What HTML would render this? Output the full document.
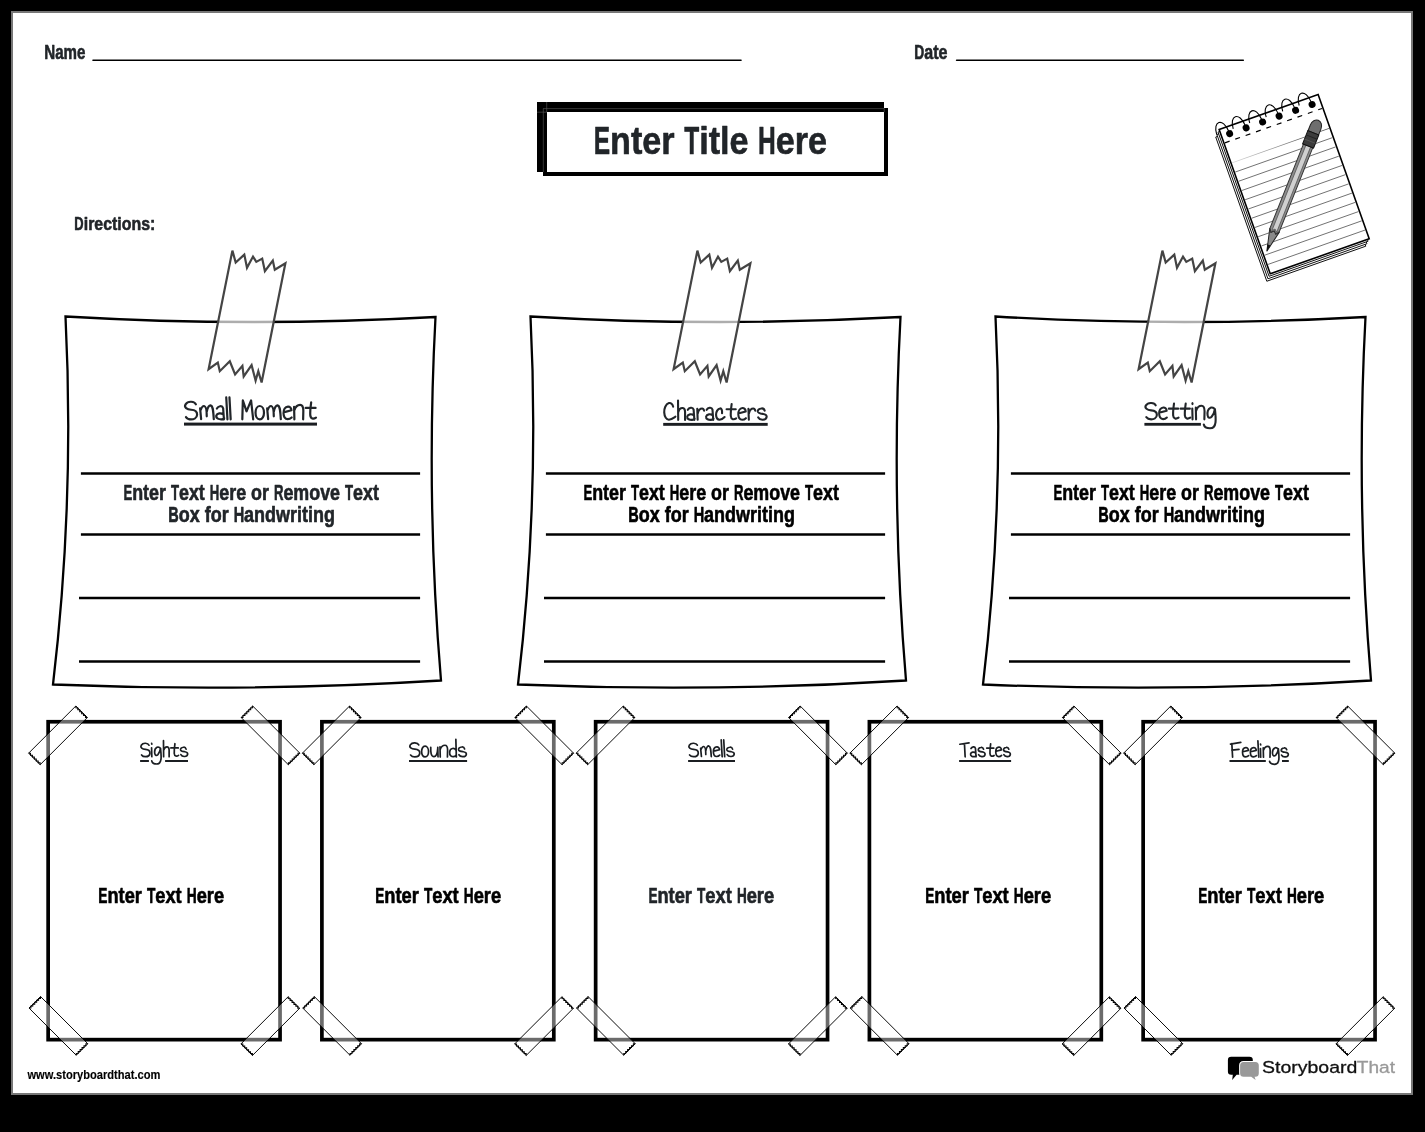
<!DOCTYPE html>
<html><head><meta charset="utf-8"><title>Worksheet</title>
<style>
html,body{margin:0;padding:0;background:#000;width:1425px;height:1132px;overflow:hidden;font-family:"Liberation Sans",sans-serif;}
#paper{position:absolute;left:11px;top:11px;width:1402px;height:1084px;box-sizing:border-box;border:2px solid #777;background:#fff;}
svg{position:absolute;left:0;top:0;will-change:transform;}
</style></head><body>
<div id="paper"></div>
<svg width="1425" height="1132" viewBox="0 0 1425 1132">
<rect x="537" y="102" width="347" height="70" fill="#000"/>
<rect x="545" y="110" width="341" height="64" fill="#fff" stroke="#000" stroke-width="4"/>
<g stroke="#5a5a5a" stroke-width="0.6"><line x1="543" y1="108.6" x2="884" y2="108.6"/><line x1="543.3" y1="108.6" x2="543.3" y2="172"/><line x1="546.7" y1="102" x2="546.7" y2="112"/><line x1="537" y1="112.2" x2="547" y2="112.2"/><line x1="884.2" y1="108" x2="884.2" y2="112.2"/></g>
<line x1="93" y1="60.3" x2="741" y2="60.3" stroke="#000" stroke-width="1.6" stroke-linecap="round"/>
<line x1="956.6" y1="60.3" x2="1243.3" y2="60.3" stroke="#000" stroke-width="1.6" stroke-linecap="round"/>
<g transform="translate(0,0)">
<path d="M 65.5 316.5 Q 249.5 327.25 435.5 317 Q 425.75 499.25 441 680.5 Q 247 692.5 53 684.5 Q 74.75 500.5 65.5 316.5 Z" fill="#fff" stroke="#000" stroke-width="2.3" stroke-linejoin="miter"/>
<line x1="80.9" y1="473.6" x2="420.1" y2="473.6" stroke="#000" stroke-width="2.5"/>
<line x1="80.9" y1="534.4" x2="420.1" y2="534.4" stroke="#000" stroke-width="2.5"/>
<line x1="79" y1="598" x2="420.1" y2="598" stroke="#000" stroke-width="2.5"/>
<line x1="79" y1="661.6" x2="420.1" y2="661.6" stroke="#000" stroke-width="2.5"/>
<polygon points="232.4,250.6 235.7,262.5 244.3,254.6 247,267.8 253,256.6 256.3,261.9 262.2,258.6 264.9,271.1 272.8,260.5 274.8,269.8 285.4,263.2 261.6,382.5 258.3,371.2 255.6,380.5 251.6,365.2 243.7,376.5 242.4,365.9 235.1,374.5 229.8,361.3 219.8,371.2 217.8,362.6 208.6,369.2" fill="rgba(255,255,255,0.68)" stroke="#444" stroke-width="2.2" stroke-linejoin="miter"/>
</g>
<g transform="translate(465,0)">
<path d="M 65.5 316.5 Q 249.5 327.25 435.5 317 Q 425.75 499.25 441 680.5 Q 247 692.5 53 684.5 Q 74.75 500.5 65.5 316.5 Z" fill="#fff" stroke="#000" stroke-width="2.3" stroke-linejoin="miter"/>
<line x1="80.9" y1="473.6" x2="420.1" y2="473.6" stroke="#000" stroke-width="2.5"/>
<line x1="80.9" y1="534.4" x2="420.1" y2="534.4" stroke="#000" stroke-width="2.5"/>
<line x1="79" y1="598" x2="420.1" y2="598" stroke="#000" stroke-width="2.5"/>
<line x1="79" y1="661.6" x2="420.1" y2="661.6" stroke="#000" stroke-width="2.5"/>
<polygon points="232.4,250.6 235.7,262.5 244.3,254.6 247,267.8 253,256.6 256.3,261.9 262.2,258.6 264.9,271.1 272.8,260.5 274.8,269.8 285.4,263.2 261.6,382.5 258.3,371.2 255.6,380.5 251.6,365.2 243.7,376.5 242.4,365.9 235.1,374.5 229.8,361.3 219.8,371.2 217.8,362.6 208.6,369.2" fill="rgba(255,255,255,0.68)" stroke="#444" stroke-width="2.2" stroke-linejoin="miter"/>
</g>
<g transform="translate(930,0)">
<path d="M 65.5 316.5 Q 249.5 327.25 435.5 317 Q 425.75 499.25 441 680.5 Q 247 692.5 53 684.5 Q 74.75 500.5 65.5 316.5 Z" fill="#fff" stroke="#000" stroke-width="2.3" stroke-linejoin="miter"/>
<line x1="80.9" y1="473.6" x2="420.1" y2="473.6" stroke="#000" stroke-width="2.5"/>
<line x1="80.9" y1="534.4" x2="420.1" y2="534.4" stroke="#000" stroke-width="2.5"/>
<line x1="79" y1="598" x2="420.1" y2="598" stroke="#000" stroke-width="2.5"/>
<line x1="79" y1="661.6" x2="420.1" y2="661.6" stroke="#000" stroke-width="2.5"/>
<polygon points="232.4,250.6 235.7,262.5 244.3,254.6 247,267.8 253,256.6 256.3,261.9 262.2,258.6 264.9,271.1 272.8,260.5 274.8,269.8 285.4,263.2 261.6,382.5 258.3,371.2 255.6,380.5 251.6,365.2 243.7,376.5 242.4,365.9 235.1,374.5 229.8,361.3 219.8,371.2 217.8,362.6 208.6,369.2" fill="rgba(255,255,255,0.68)" stroke="#444" stroke-width="2.2" stroke-linejoin="miter"/>
</g>
<rect x="48.15" y="721.75" width="231.9" height="317.9" fill="#fff" stroke="#000" stroke-width="3.7"/>
<rect x="321.9" y="721.75" width="231.9" height="317.9" fill="#fff" stroke="#000" stroke-width="3.7"/>
<rect x="595.65" y="721.75" width="231.9" height="317.9" fill="#fff" stroke="#000" stroke-width="3.7"/>
<rect x="869.4" y="721.75" width="231.9" height="317.9" fill="#fff" stroke="#000" stroke-width="3.7"/>
<rect x="1143.15" y="721.75" width="231.9" height="317.9" fill="#fff" stroke="#000" stroke-width="3.7"/>
<g transform="translate(58,735.35) rotate(-45)"><rect x="-33.4" y="-8.15" width="66.8" height="16.3" fill="rgba(255,255,255,0.42)" stroke="#000" stroke-width="0.9"/><path d="M33.4 -8.15 L32.1 -6.79 L33.4 -5.43 L32.1 -4.08 L33.4 -2.72 L32.1 -1.36 L33.4 0 L32.1 1.36 L33.4 2.72 L32.1 4.08 L33.4 5.43 L32.1 6.79 L33.4 8.15" fill="none" stroke="#000" stroke-width="1.05"/><path d="M-33.4 8.15 L-32.1 6.79 L-33.4 5.43 L-32.1 4.08 L-33.4 2.72 L-32.1 1.36 L-33.4 0 L-32.1 -1.36 L-33.4 -2.72 L-32.1 -4.08 L-33.4 -5.43 L-32.1 -6.79 L-33.4 -8.15" fill="none" stroke="#000" stroke-width="1.05"/></g>
<g transform="translate(270.5,735.35) rotate(45)"><rect x="-33.4" y="-8.15" width="66.8" height="16.3" fill="rgba(255,255,255,0.42)" stroke="#000" stroke-width="0.9"/><path d="M33.4 -8.15 L32.1 -6.79 L33.4 -5.43 L32.1 -4.08 L33.4 -2.72 L32.1 -1.36 L33.4 0 L32.1 1.36 L33.4 2.72 L32.1 4.08 L33.4 5.43 L32.1 6.79 L33.4 8.15" fill="none" stroke="#000" stroke-width="1.05"/><path d="M-33.4 8.15 L-32.1 6.79 L-33.4 5.43 L-32.1 4.08 L-33.4 2.72 L-32.1 1.36 L-33.4 0 L-32.1 -1.36 L-33.4 -2.72 L-32.1 -4.08 L-33.4 -5.43 L-32.1 -6.79 L-33.4 -8.15" fill="none" stroke="#000" stroke-width="1.05"/></g>
<g transform="translate(58.4,1025.9) rotate(45)"><rect x="-33.4" y="-8.15" width="66.8" height="16.3" fill="rgba(255,255,255,0.42)" stroke="#000" stroke-width="0.9"/><path d="M33.4 -8.15 L32.1 -6.79 L33.4 -5.43 L32.1 -4.08 L33.4 -2.72 L32.1 -1.36 L33.4 0 L32.1 1.36 L33.4 2.72 L32.1 4.08 L33.4 5.43 L32.1 6.79 L33.4 8.15" fill="none" stroke="#000" stroke-width="1.05"/><path d="M-33.4 8.15 L-32.1 6.79 L-33.4 5.43 L-32.1 4.08 L-33.4 2.72 L-32.1 1.36 L-33.4 0 L-32.1 -1.36 L-33.4 -2.72 L-32.1 -4.08 L-33.4 -5.43 L-32.1 -6.79 L-33.4 -8.15" fill="none" stroke="#000" stroke-width="1.05"/></g>
<g transform="translate(270.3,1026.1) rotate(-45)"><rect x="-33.4" y="-8.15" width="66.8" height="16.3" fill="rgba(255,255,255,0.42)" stroke="#000" stroke-width="0.9"/><path d="M33.4 -8.15 L32.1 -6.79 L33.4 -5.43 L32.1 -4.08 L33.4 -2.72 L32.1 -1.36 L33.4 0 L32.1 1.36 L33.4 2.72 L32.1 4.08 L33.4 5.43 L32.1 6.79 L33.4 8.15" fill="none" stroke="#000" stroke-width="1.05"/><path d="M-33.4 8.15 L-32.1 6.79 L-33.4 5.43 L-32.1 4.08 L-33.4 2.72 L-32.1 1.36 L-33.4 0 L-32.1 -1.36 L-33.4 -2.72 L-32.1 -4.08 L-33.4 -5.43 L-32.1 -6.79 L-33.4 -8.15" fill="none" stroke="#000" stroke-width="1.05"/></g>
<g transform="translate(331.75,735.35) rotate(-45)"><rect x="-33.4" y="-8.15" width="66.8" height="16.3" fill="rgba(255,255,255,0.42)" stroke="#000" stroke-width="0.9"/><path d="M33.4 -8.15 L32.1 -6.79 L33.4 -5.43 L32.1 -4.08 L33.4 -2.72 L32.1 -1.36 L33.4 0 L32.1 1.36 L33.4 2.72 L32.1 4.08 L33.4 5.43 L32.1 6.79 L33.4 8.15" fill="none" stroke="#000" stroke-width="1.05"/><path d="M-33.4 8.15 L-32.1 6.79 L-33.4 5.43 L-32.1 4.08 L-33.4 2.72 L-32.1 1.36 L-33.4 0 L-32.1 -1.36 L-33.4 -2.72 L-32.1 -4.08 L-33.4 -5.43 L-32.1 -6.79 L-33.4 -8.15" fill="none" stroke="#000" stroke-width="1.05"/></g>
<g transform="translate(544.25,735.35) rotate(45)"><rect x="-33.4" y="-8.15" width="66.8" height="16.3" fill="rgba(255,255,255,0.42)" stroke="#000" stroke-width="0.9"/><path d="M33.4 -8.15 L32.1 -6.79 L33.4 -5.43 L32.1 -4.08 L33.4 -2.72 L32.1 -1.36 L33.4 0 L32.1 1.36 L33.4 2.72 L32.1 4.08 L33.4 5.43 L32.1 6.79 L33.4 8.15" fill="none" stroke="#000" stroke-width="1.05"/><path d="M-33.4 8.15 L-32.1 6.79 L-33.4 5.43 L-32.1 4.08 L-33.4 2.72 L-32.1 1.36 L-33.4 0 L-32.1 -1.36 L-33.4 -2.72 L-32.1 -4.08 L-33.4 -5.43 L-32.1 -6.79 L-33.4 -8.15" fill="none" stroke="#000" stroke-width="1.05"/></g>
<g transform="translate(332.15,1025.9) rotate(45)"><rect x="-33.4" y="-8.15" width="66.8" height="16.3" fill="rgba(255,255,255,0.42)" stroke="#000" stroke-width="0.9"/><path d="M33.4 -8.15 L32.1 -6.79 L33.4 -5.43 L32.1 -4.08 L33.4 -2.72 L32.1 -1.36 L33.4 0 L32.1 1.36 L33.4 2.72 L32.1 4.08 L33.4 5.43 L32.1 6.79 L33.4 8.15" fill="none" stroke="#000" stroke-width="1.05"/><path d="M-33.4 8.15 L-32.1 6.79 L-33.4 5.43 L-32.1 4.08 L-33.4 2.72 L-32.1 1.36 L-33.4 0 L-32.1 -1.36 L-33.4 -2.72 L-32.1 -4.08 L-33.4 -5.43 L-32.1 -6.79 L-33.4 -8.15" fill="none" stroke="#000" stroke-width="1.05"/></g>
<g transform="translate(544.05,1026.1) rotate(-45)"><rect x="-33.4" y="-8.15" width="66.8" height="16.3" fill="rgba(255,255,255,0.42)" stroke="#000" stroke-width="0.9"/><path d="M33.4 -8.15 L32.1 -6.79 L33.4 -5.43 L32.1 -4.08 L33.4 -2.72 L32.1 -1.36 L33.4 0 L32.1 1.36 L33.4 2.72 L32.1 4.08 L33.4 5.43 L32.1 6.79 L33.4 8.15" fill="none" stroke="#000" stroke-width="1.05"/><path d="M-33.4 8.15 L-32.1 6.79 L-33.4 5.43 L-32.1 4.08 L-33.4 2.72 L-32.1 1.36 L-33.4 0 L-32.1 -1.36 L-33.4 -2.72 L-32.1 -4.08 L-33.4 -5.43 L-32.1 -6.79 L-33.4 -8.15" fill="none" stroke="#000" stroke-width="1.05"/></g>
<g transform="translate(605.5,735.35) rotate(-45)"><rect x="-33.4" y="-8.15" width="66.8" height="16.3" fill="rgba(255,255,255,0.42)" stroke="#000" stroke-width="0.9"/><path d="M33.4 -8.15 L32.1 -6.79 L33.4 -5.43 L32.1 -4.08 L33.4 -2.72 L32.1 -1.36 L33.4 0 L32.1 1.36 L33.4 2.72 L32.1 4.08 L33.4 5.43 L32.1 6.79 L33.4 8.15" fill="none" stroke="#000" stroke-width="1.05"/><path d="M-33.4 8.15 L-32.1 6.79 L-33.4 5.43 L-32.1 4.08 L-33.4 2.72 L-32.1 1.36 L-33.4 0 L-32.1 -1.36 L-33.4 -2.72 L-32.1 -4.08 L-33.4 -5.43 L-32.1 -6.79 L-33.4 -8.15" fill="none" stroke="#000" stroke-width="1.05"/></g>
<g transform="translate(818,735.35) rotate(45)"><rect x="-33.4" y="-8.15" width="66.8" height="16.3" fill="rgba(255,255,255,0.42)" stroke="#000" stroke-width="0.9"/><path d="M33.4 -8.15 L32.1 -6.79 L33.4 -5.43 L32.1 -4.08 L33.4 -2.72 L32.1 -1.36 L33.4 0 L32.1 1.36 L33.4 2.72 L32.1 4.08 L33.4 5.43 L32.1 6.79 L33.4 8.15" fill="none" stroke="#000" stroke-width="1.05"/><path d="M-33.4 8.15 L-32.1 6.79 L-33.4 5.43 L-32.1 4.08 L-33.4 2.72 L-32.1 1.36 L-33.4 0 L-32.1 -1.36 L-33.4 -2.72 L-32.1 -4.08 L-33.4 -5.43 L-32.1 -6.79 L-33.4 -8.15" fill="none" stroke="#000" stroke-width="1.05"/></g>
<g transform="translate(605.9,1025.9) rotate(45)"><rect x="-33.4" y="-8.15" width="66.8" height="16.3" fill="rgba(255,255,255,0.42)" stroke="#000" stroke-width="0.9"/><path d="M33.4 -8.15 L32.1 -6.79 L33.4 -5.43 L32.1 -4.08 L33.4 -2.72 L32.1 -1.36 L33.4 0 L32.1 1.36 L33.4 2.72 L32.1 4.08 L33.4 5.43 L32.1 6.79 L33.4 8.15" fill="none" stroke="#000" stroke-width="1.05"/><path d="M-33.4 8.15 L-32.1 6.79 L-33.4 5.43 L-32.1 4.08 L-33.4 2.72 L-32.1 1.36 L-33.4 0 L-32.1 -1.36 L-33.4 -2.72 L-32.1 -4.08 L-33.4 -5.43 L-32.1 -6.79 L-33.4 -8.15" fill="none" stroke="#000" stroke-width="1.05"/></g>
<g transform="translate(817.8,1026.1) rotate(-45)"><rect x="-33.4" y="-8.15" width="66.8" height="16.3" fill="rgba(255,255,255,0.42)" stroke="#000" stroke-width="0.9"/><path d="M33.4 -8.15 L32.1 -6.79 L33.4 -5.43 L32.1 -4.08 L33.4 -2.72 L32.1 -1.36 L33.4 0 L32.1 1.36 L33.4 2.72 L32.1 4.08 L33.4 5.43 L32.1 6.79 L33.4 8.15" fill="none" stroke="#000" stroke-width="1.05"/><path d="M-33.4 8.15 L-32.1 6.79 L-33.4 5.43 L-32.1 4.08 L-33.4 2.72 L-32.1 1.36 L-33.4 0 L-32.1 -1.36 L-33.4 -2.72 L-32.1 -4.08 L-33.4 -5.43 L-32.1 -6.79 L-33.4 -8.15" fill="none" stroke="#000" stroke-width="1.05"/></g>
<g transform="translate(879.25,735.35) rotate(-45)"><rect x="-33.4" y="-8.15" width="66.8" height="16.3" fill="rgba(255,255,255,0.42)" stroke="#000" stroke-width="0.9"/><path d="M33.4 -8.15 L32.1 -6.79 L33.4 -5.43 L32.1 -4.08 L33.4 -2.72 L32.1 -1.36 L33.4 0 L32.1 1.36 L33.4 2.72 L32.1 4.08 L33.4 5.43 L32.1 6.79 L33.4 8.15" fill="none" stroke="#000" stroke-width="1.05"/><path d="M-33.4 8.15 L-32.1 6.79 L-33.4 5.43 L-32.1 4.08 L-33.4 2.72 L-32.1 1.36 L-33.4 0 L-32.1 -1.36 L-33.4 -2.72 L-32.1 -4.08 L-33.4 -5.43 L-32.1 -6.79 L-33.4 -8.15" fill="none" stroke="#000" stroke-width="1.05"/></g>
<g transform="translate(1091.75,735.35) rotate(45)"><rect x="-33.4" y="-8.15" width="66.8" height="16.3" fill="rgba(255,255,255,0.42)" stroke="#000" stroke-width="0.9"/><path d="M33.4 -8.15 L32.1 -6.79 L33.4 -5.43 L32.1 -4.08 L33.4 -2.72 L32.1 -1.36 L33.4 0 L32.1 1.36 L33.4 2.72 L32.1 4.08 L33.4 5.43 L32.1 6.79 L33.4 8.15" fill="none" stroke="#000" stroke-width="1.05"/><path d="M-33.4 8.15 L-32.1 6.79 L-33.4 5.43 L-32.1 4.08 L-33.4 2.72 L-32.1 1.36 L-33.4 0 L-32.1 -1.36 L-33.4 -2.72 L-32.1 -4.08 L-33.4 -5.43 L-32.1 -6.79 L-33.4 -8.15" fill="none" stroke="#000" stroke-width="1.05"/></g>
<g transform="translate(879.65,1025.9) rotate(45)"><rect x="-33.4" y="-8.15" width="66.8" height="16.3" fill="rgba(255,255,255,0.42)" stroke="#000" stroke-width="0.9"/><path d="M33.4 -8.15 L32.1 -6.79 L33.4 -5.43 L32.1 -4.08 L33.4 -2.72 L32.1 -1.36 L33.4 0 L32.1 1.36 L33.4 2.72 L32.1 4.08 L33.4 5.43 L32.1 6.79 L33.4 8.15" fill="none" stroke="#000" stroke-width="1.05"/><path d="M-33.4 8.15 L-32.1 6.79 L-33.4 5.43 L-32.1 4.08 L-33.4 2.72 L-32.1 1.36 L-33.4 0 L-32.1 -1.36 L-33.4 -2.72 L-32.1 -4.08 L-33.4 -5.43 L-32.1 -6.79 L-33.4 -8.15" fill="none" stroke="#000" stroke-width="1.05"/></g>
<g transform="translate(1091.55,1026.1) rotate(-45)"><rect x="-33.4" y="-8.15" width="66.8" height="16.3" fill="rgba(255,255,255,0.42)" stroke="#000" stroke-width="0.9"/><path d="M33.4 -8.15 L32.1 -6.79 L33.4 -5.43 L32.1 -4.08 L33.4 -2.72 L32.1 -1.36 L33.4 0 L32.1 1.36 L33.4 2.72 L32.1 4.08 L33.4 5.43 L32.1 6.79 L33.4 8.15" fill="none" stroke="#000" stroke-width="1.05"/><path d="M-33.4 8.15 L-32.1 6.79 L-33.4 5.43 L-32.1 4.08 L-33.4 2.72 L-32.1 1.36 L-33.4 0 L-32.1 -1.36 L-33.4 -2.72 L-32.1 -4.08 L-33.4 -5.43 L-32.1 -6.79 L-33.4 -8.15" fill="none" stroke="#000" stroke-width="1.05"/></g>
<g transform="translate(1153,735.35) rotate(-45)"><rect x="-33.4" y="-8.15" width="66.8" height="16.3" fill="rgba(255,255,255,0.42)" stroke="#000" stroke-width="0.9"/><path d="M33.4 -8.15 L32.1 -6.79 L33.4 -5.43 L32.1 -4.08 L33.4 -2.72 L32.1 -1.36 L33.4 0 L32.1 1.36 L33.4 2.72 L32.1 4.08 L33.4 5.43 L32.1 6.79 L33.4 8.15" fill="none" stroke="#000" stroke-width="1.05"/><path d="M-33.4 8.15 L-32.1 6.79 L-33.4 5.43 L-32.1 4.08 L-33.4 2.72 L-32.1 1.36 L-33.4 0 L-32.1 -1.36 L-33.4 -2.72 L-32.1 -4.08 L-33.4 -5.43 L-32.1 -6.79 L-33.4 -8.15" fill="none" stroke="#000" stroke-width="1.05"/></g>
<g transform="translate(1365.5,735.35) rotate(45)"><rect x="-33.4" y="-8.15" width="66.8" height="16.3" fill="rgba(255,255,255,0.42)" stroke="#000" stroke-width="0.9"/><path d="M33.4 -8.15 L32.1 -6.79 L33.4 -5.43 L32.1 -4.08 L33.4 -2.72 L32.1 -1.36 L33.4 0 L32.1 1.36 L33.4 2.72 L32.1 4.08 L33.4 5.43 L32.1 6.79 L33.4 8.15" fill="none" stroke="#000" stroke-width="1.05"/><path d="M-33.4 8.15 L-32.1 6.79 L-33.4 5.43 L-32.1 4.08 L-33.4 2.72 L-32.1 1.36 L-33.4 0 L-32.1 -1.36 L-33.4 -2.72 L-32.1 -4.08 L-33.4 -5.43 L-32.1 -6.79 L-33.4 -8.15" fill="none" stroke="#000" stroke-width="1.05"/></g>
<g transform="translate(1153.4,1025.9) rotate(45)"><rect x="-33.4" y="-8.15" width="66.8" height="16.3" fill="rgba(255,255,255,0.42)" stroke="#000" stroke-width="0.9"/><path d="M33.4 -8.15 L32.1 -6.79 L33.4 -5.43 L32.1 -4.08 L33.4 -2.72 L32.1 -1.36 L33.4 0 L32.1 1.36 L33.4 2.72 L32.1 4.08 L33.4 5.43 L32.1 6.79 L33.4 8.15" fill="none" stroke="#000" stroke-width="1.05"/><path d="M-33.4 8.15 L-32.1 6.79 L-33.4 5.43 L-32.1 4.08 L-33.4 2.72 L-32.1 1.36 L-33.4 0 L-32.1 -1.36 L-33.4 -2.72 L-32.1 -4.08 L-33.4 -5.43 L-32.1 -6.79 L-33.4 -8.15" fill="none" stroke="#000" stroke-width="1.05"/></g>
<g transform="translate(1365.3,1026.1) rotate(-45)"><rect x="-33.4" y="-8.15" width="66.8" height="16.3" fill="rgba(255,255,255,0.42)" stroke="#000" stroke-width="0.9"/><path d="M33.4 -8.15 L32.1 -6.79 L33.4 -5.43 L32.1 -4.08 L33.4 -2.72 L32.1 -1.36 L33.4 0 L32.1 1.36 L33.4 2.72 L32.1 4.08 L33.4 5.43 L32.1 6.79 L33.4 8.15" fill="none" stroke="#000" stroke-width="1.05"/><path d="M-33.4 8.15 L-32.1 6.79 L-33.4 5.43 L-32.1 4.08 L-33.4 2.72 L-32.1 1.36 L-33.4 0 L-32.1 -1.36 L-33.4 -2.72 L-32.1 -4.08 L-33.4 -5.43 L-32.1 -6.79 L-33.4 -8.15" fill="none" stroke="#000" stroke-width="1.05"/></g>
<rect x="184" y="422.6" width="133" height="3" fill="#1b1e22"/>
<rect x="663.2" y="422.9" width="104.5" height="2.9" fill="#1b1e22"/>
<rect x="1144.4" y="422.9" width="56.5" height="2.8" fill="#1b1e22"/>
<rect x="140.1" y="760" width="8.8" height="2" fill="#1b1e22"/>
<rect x="165.1" y="760" width="22.9" height="2" fill="#1b1e22"/>
<rect x="409" y="760" width="58.1" height="2" fill="#1b1e22"/>
<rect x="688.1" y="760" width="46.9" height="2" fill="#1b1e22"/>
<rect x="959.1" y="760" width="52" height="2" fill="#1b1e22"/>
<rect x="1229.5" y="760" width="36.3" height="2" fill="#1b1e22"/>
<rect x="1282" y="760" width="6.8" height="2" fill="#1b1e22"/>
<g transform="translate(1219.15,129.6) rotate(-19.5)">
<rect x="-5.7" y="5.85" width="105" height="153" fill="#fff" stroke="#000" stroke-width="0.85"/>
<rect x="-3.8" y="3.9" width="105" height="153" fill="#fff" stroke="#000" stroke-width="0.85"/>
<rect x="-1.9" y="1.95" width="105" height="153" fill="#fff" stroke="#000" stroke-width="0.85"/>
<rect x="0" y="0" width="105" height="153" fill="#fff" stroke="#000" stroke-width="1.6"/>
<defs><linearGradient id="fadeL" x1="0" y1="0" x2="1" y2="0"><stop offset="0" stop-color="#ddd"/><stop offset="0.7" stop-color="#666"/><stop offset="1" stop-color="#555"/></linearGradient></defs>
<rect x="1" y="35.23" width="103" height="0.75" fill="url(#fadeL)"/>
<line x1="1" y1="45.4" x2="104" y2="45.4" stroke="#555" stroke-width="0.75"/>
<line x1="1" y1="55.2" x2="104" y2="55.2" stroke="#555" stroke-width="0.75"/>
<line x1="1" y1="65" x2="104" y2="65" stroke="#555" stroke-width="0.75"/>
<line x1="1" y1="74.8" x2="104" y2="74.8" stroke="#555" stroke-width="0.75"/>
<line x1="1" y1="84.6" x2="104" y2="84.6" stroke="#555" stroke-width="0.75"/>
<line x1="1" y1="94.4" x2="104" y2="94.4" stroke="#555" stroke-width="0.75"/>
<line x1="1" y1="104.2" x2="104" y2="104.2" stroke="#555" stroke-width="0.75"/>
<line x1="1" y1="114" x2="104" y2="114" stroke="#555" stroke-width="0.75"/>
<line x1="1" y1="123.8" x2="104" y2="123.8" stroke="#555" stroke-width="0.75"/>
<line x1="1" y1="133.6" x2="104" y2="133.6" stroke="#555" stroke-width="0.75"/>
<line x1="1" y1="143.4" x2="104" y2="143.4" stroke="#555" stroke-width="0.75"/>
<line x1="1" y1="14.4" x2="104" y2="14.4" stroke="#000" stroke-width="1.2" stroke-dasharray="5 6"/>
<path d="M -4 4 C -3.5 -10 7.5 -11 8.5 5" fill="none" stroke="#000" stroke-width="1.1"/>
<circle cx="8.5" cy="7.35" r="3.5" fill="#000"/>
<path d="M 13.5 4 C 14 -10 25 -11 26 5" fill="none" stroke="#000" stroke-width="1.1"/>
<circle cx="26" cy="7.35" r="3.5" fill="#000"/>
<path d="M 31 4 C 31.5 -10 42.5 -11 43.5 5" fill="none" stroke="#000" stroke-width="1.1"/>
<circle cx="43.5" cy="7.35" r="3.5" fill="#000"/>
<path d="M 48.5 4 C 49 -10 60 -11 61 5" fill="none" stroke="#000" stroke-width="1.1"/>
<circle cx="61" cy="7.35" r="3.5" fill="#000"/>
<path d="M 66 4 C 66.5 -10 77.5 -11 78.5 5" fill="none" stroke="#000" stroke-width="1.1"/>
<circle cx="78.5" cy="7.35" r="3.5" fill="#000"/>
<path d="M 83.5 4 C 84 -10 95 -11 96 5" fill="none" stroke="#000" stroke-width="1.1"/>
<circle cx="96" cy="7.35" r="3.5" fill="#000"/>
</g>
<g transform="translate(1318.3,120.3) rotate(21.7)">
<path d="M -5.2 118 L -2.6 121.5 L 0 119 L 2.6 121.5 L 5.2 118 L 0.6 140.7 Z" fill="#8a8a8a" stroke="#222" stroke-width="1"/>
<path d="M -1.6 134 L 1.9 134 L 0.6 140.7 Z" fill="#111"/>
<path d="M -5 27.4 L 5 27.4 L 5 118 L 2.6 121.5 L 0 119 L -2.6 121.5 L -5 118 Z" fill="#8d8d8d" stroke="#333" stroke-width="1"/>
<path d="M -2.3 27.4 L 2.7 27.4 L 2.7 119.5 L 0 117 L -2.3 119.5 Z" fill="#d0d0d0" stroke="#444" stroke-width="0.6"/>
<path d="M -5.7 13.5 L -5.7 7 A 5.7 7 0 0 1 5.7 7 L 5.7 13.5 Z" fill="#6e6e6e" stroke="#222" stroke-width="1"/>
<rect x="-5.9" y="13.5" width="11.8" height="14.2" fill="#3c3c3c" stroke="#111" stroke-width="1"/>
<line x1="-5.9" y1="18" x2="5.9" y2="18" stroke="#222" stroke-width="1"/>
<line x1="-5.9" y1="22.5" x2="5.9" y2="22.5" stroke="#555" stroke-width="1"/>
</g>
<path d="M 1231.2 1056.8 H 1249.5 Q 1252.8 1056.8 1252.8 1060.1 V 1071.5 Q 1252.8 1074.8 1249.5 1074.8 H 1236.6 L 1232.2 1080 L 1232.8 1074.8 H 1231.2 Q 1227.9 1074.8 1227.9 1071.5 V 1060.1 Q 1227.9 1056.8 1231.2 1056.8 Z" fill="#000"/>
<path d="M 1243.6 1061.9 H 1255.3 Q 1258.8 1061.9 1258.8 1065.4 V 1073.3 Q 1258.8 1076.8 1255.3 1076.8 H 1254.6 L 1255.6 1079.9 L 1251.2 1076.8 H 1243.6 Q 1240.1 1076.8 1240.1 1073.3 V 1065.4 Q 1240.1 1061.9 1243.6 1061.9 Z" fill="#fff" stroke="#fff" stroke-width="2"/><path d="M 1243.6 1061.9 H 1255.3 Q 1258.8 1061.9 1258.8 1065.4 V 1073.3 Q 1258.8 1076.8 1255.3 1076.8 H 1254.6 L 1255.6 1079.9 L 1251.2 1076.8 H 1243.6 Q 1240.1 1076.8 1240.1 1073.3 V 1065.4 Q 1240.1 1061.9 1243.6 1061.9 Z" fill="#999"/>
<g transform="translate(44.2,58.8)"><text transform="translate(0,0) scale(0.758,1)" x="0" y="0" font-family="'Liberation Sans', sans-serif" font-weight="bold" font-size="20" fill="#212529" stroke="#212529" stroke-width="0.6" stroke-linejoin="round" style="white-space:pre">N</text><text transform="translate(10.962,0) scale(0.755,1)" x="0" y="0" font-family="'Liberation Sans', sans-serif" font-weight="bold" font-size="20" fill="#212529" stroke="#212529" stroke-width="0.6" stroke-linejoin="round" style="white-space:pre">ame</text></g>
<g transform="translate(914.266,58.588)"><text transform="translate(0,0) scale(0.717,1)" x="0" y="0" font-family="'Liberation Sans', sans-serif" font-weight="bold" font-size="19.291" fill="#212529" stroke="#212529" stroke-width="0.6" stroke-linejoin="round" style="white-space:pre">D</text><text transform="translate(9.997,0) scale(0.832,1)" x="0" y="0" font-family="'Liberation Sans', sans-serif" font-weight="bold" font-size="19.291" fill="#212529" stroke="#212529" stroke-width="0.6" stroke-linejoin="round" style="white-space:pre">ate</text></g>
<g transform="translate(593.718,154)"><text transform="translate(0,0) scale(0.624,1)" x="0" y="0" font-family="'Liberation Sans', sans-serif" font-weight="bold" font-size="39.3" fill="#212529" stroke="#212529" stroke-width="0.6" stroke-linejoin="round" style="white-space:pre">E</text><text transform="translate(16.348,0) scale(0.87,1)" x="0" y="0" font-family="'Liberation Sans', sans-serif" font-weight="bold" font-size="39.3" fill="#212529" stroke="#212529" stroke-width="0.6" stroke-linejoin="round" style="white-space:pre">nter </text><text transform="translate(90.442,0) scale(0.624,1)" x="0" y="0" font-family="'Liberation Sans', sans-serif" font-weight="bold" font-size="39.3" fill="#212529" stroke="#212529" stroke-width="0.6" stroke-linejoin="round" style="white-space:pre">T</text><text transform="translate(105.416,0) scale(0.87,1)" x="0" y="0" font-family="'Liberation Sans', sans-serif" font-weight="bold" font-size="39.3" fill="#212529" stroke="#212529" stroke-width="0.6" stroke-linejoin="round" style="white-space:pre">itle </text><text transform="translate(164.325,0) scale(0.624,1)" x="0" y="0" font-family="'Liberation Sans', sans-serif" font-weight="bold" font-size="39.3" fill="#212529" stroke="#212529" stroke-width="0.6" stroke-linejoin="round" style="white-space:pre">H</text><text transform="translate(182.027,0) scale(0.87,1)" x="0" y="0" font-family="'Liberation Sans', sans-serif" font-weight="bold" font-size="39.3" fill="#212529" stroke="#212529" stroke-width="0.6" stroke-linejoin="round" style="white-space:pre">ere</text></g>
<g transform="translate(74.373,229.9)"><text transform="translate(0,0) scale(0.68,1)" x="0" y="0" font-family="'Liberation Sans', sans-serif" font-weight="bold" font-size="19" fill="#212529" stroke="#212529" stroke-width="0.6" stroke-linejoin="round" style="white-space:pre">D</text><text transform="translate(9.343,0) scale(0.837,1)" x="0" y="0" font-family="'Liberation Sans', sans-serif" font-weight="bold" font-size="19" fill="#212529" stroke="#212529" stroke-width="0.6" stroke-linejoin="round" style="white-space:pre">irections:</text></g>
<g transform="translate(123.396,499.658)"><text transform="translate(0,0) scale(0.615,1)" x="0" y="0" font-family="'Liberation Sans', sans-serif" font-weight="bold" font-size="21.41" fill="#212529" stroke="#212529" stroke-width="0.6" stroke-linejoin="round" style="white-space:pre">E</text><text transform="translate(8.793,0) scale(0.835,1)" x="0" y="0" font-family="'Liberation Sans', sans-serif" font-weight="bold" font-size="21.41" fill="#212529" stroke="#212529" stroke-width="0.6" stroke-linejoin="round" style="white-space:pre">nter </text><text transform="translate(47.522,0) scale(0.615,1)" x="0" y="0" font-family="'Liberation Sans', sans-serif" font-weight="bold" font-size="21.41" fill="#212529" stroke="#212529" stroke-width="0.6" stroke-linejoin="round" style="white-space:pre">T</text><text transform="translate(55.576,0) scale(0.835,1)" x="0" y="0" font-family="'Liberation Sans', sans-serif" font-weight="bold" font-size="21.41" fill="#212529" stroke="#212529" stroke-width="0.6" stroke-linejoin="round" style="white-space:pre">ext </text><text transform="translate(86.375,0) scale(0.615,1)" x="0" y="0" font-family="'Liberation Sans', sans-serif" font-weight="bold" font-size="21.41" fill="#212529" stroke="#212529" stroke-width="0.6" stroke-linejoin="round" style="white-space:pre">H</text><text transform="translate(95.887,0) scale(0.835,1)" x="0" y="0" font-family="'Liberation Sans', sans-serif" font-weight="bold" font-size="21.41" fill="#212529" stroke="#212529" stroke-width="0.6" stroke-linejoin="round" style="white-space:pre">ere or </text><text transform="translate(150.518,0) scale(0.615,1)" x="0" y="0" font-family="'Liberation Sans', sans-serif" font-weight="bold" font-size="21.41" fill="#212529" stroke="#212529" stroke-width="0.6" stroke-linejoin="round" style="white-space:pre">R</text><text transform="translate(160.03,0) scale(0.835,1)" x="0" y="0" font-family="'Liberation Sans', sans-serif" font-weight="bold" font-size="21.41" fill="#212529" stroke="#212529" stroke-width="0.6" stroke-linejoin="round" style="white-space:pre">emove </text><text transform="translate(221.616,0) scale(0.615,1)" x="0" y="0" font-family="'Liberation Sans', sans-serif" font-weight="bold" font-size="21.41" fill="#212529" stroke="#212529" stroke-width="0.6" stroke-linejoin="round" style="white-space:pre">T</text><text transform="translate(229.669,0) scale(0.835,1)" x="0" y="0" font-family="'Liberation Sans', sans-serif" font-weight="bold" font-size="21.41" fill="#212529" stroke="#212529" stroke-width="0.6" stroke-linejoin="round" style="white-space:pre">ext</text></g>
<g transform="translate(168.263,521.658)"><text transform="translate(0,0) scale(0.678,1)" x="0" y="0" font-family="'Liberation Sans', sans-serif" font-weight="bold" font-size="21.41" fill="#212529" stroke="#212529" stroke-width="0.6" stroke-linejoin="round" style="white-space:pre">B</text><text transform="translate(10.482,0) scale(0.839,1)" x="0" y="0" font-family="'Liberation Sans', sans-serif" font-weight="bold" font-size="21.41" fill="#212529" stroke="#212529" stroke-width="0.6" stroke-linejoin="round" style="white-space:pre">ox for </text><text transform="translate(65.366,0) scale(0.678,1)" x="0" y="0" font-family="'Liberation Sans', sans-serif" font-weight="bold" font-size="21.41" fill="#212529" stroke="#212529" stroke-width="0.6" stroke-linejoin="round" style="white-space:pre">H</text><text transform="translate(75.847,0) scale(0.839,1)" x="0" y="0" font-family="'Liberation Sans', sans-serif" font-weight="bold" font-size="21.41" fill="#212529" stroke="#212529" stroke-width="0.6" stroke-linejoin="round" style="white-space:pre">andwriting</text></g>
<g transform="translate(583.396,499.658)"><text transform="translate(0,0) scale(0.615,1)" x="0" y="0" font-family="'Liberation Sans', sans-serif" font-weight="bold" font-size="21.41" fill="#000" stroke="#000" stroke-width="0.6" stroke-linejoin="round" style="white-space:pre">E</text><text transform="translate(8.793,0) scale(0.835,1)" x="0" y="0" font-family="'Liberation Sans', sans-serif" font-weight="bold" font-size="21.41" fill="#000" stroke="#000" stroke-width="0.6" stroke-linejoin="round" style="white-space:pre">nter </text><text transform="translate(47.522,0) scale(0.615,1)" x="0" y="0" font-family="'Liberation Sans', sans-serif" font-weight="bold" font-size="21.41" fill="#000" stroke="#000" stroke-width="0.6" stroke-linejoin="round" style="white-space:pre">T</text><text transform="translate(55.576,0) scale(0.835,1)" x="0" y="0" font-family="'Liberation Sans', sans-serif" font-weight="bold" font-size="21.41" fill="#000" stroke="#000" stroke-width="0.6" stroke-linejoin="round" style="white-space:pre">ext </text><text transform="translate(86.375,0) scale(0.615,1)" x="0" y="0" font-family="'Liberation Sans', sans-serif" font-weight="bold" font-size="21.41" fill="#000" stroke="#000" stroke-width="0.6" stroke-linejoin="round" style="white-space:pre">H</text><text transform="translate(95.887,0) scale(0.835,1)" x="0" y="0" font-family="'Liberation Sans', sans-serif" font-weight="bold" font-size="21.41" fill="#000" stroke="#000" stroke-width="0.6" stroke-linejoin="round" style="white-space:pre">ere or </text><text transform="translate(150.518,0) scale(0.615,1)" x="0" y="0" font-family="'Liberation Sans', sans-serif" font-weight="bold" font-size="21.41" fill="#000" stroke="#000" stroke-width="0.6" stroke-linejoin="round" style="white-space:pre">R</text><text transform="translate(160.03,0) scale(0.835,1)" x="0" y="0" font-family="'Liberation Sans', sans-serif" font-weight="bold" font-size="21.41" fill="#000" stroke="#000" stroke-width="0.6" stroke-linejoin="round" style="white-space:pre">emove </text><text transform="translate(221.616,0) scale(0.615,1)" x="0" y="0" font-family="'Liberation Sans', sans-serif" font-weight="bold" font-size="21.41" fill="#000" stroke="#000" stroke-width="0.6" stroke-linejoin="round" style="white-space:pre">T</text><text transform="translate(229.669,0) scale(0.835,1)" x="0" y="0" font-family="'Liberation Sans', sans-serif" font-weight="bold" font-size="21.41" fill="#000" stroke="#000" stroke-width="0.6" stroke-linejoin="round" style="white-space:pre">ext</text></g>
<g transform="translate(628.263,521.658)"><text transform="translate(0,0) scale(0.678,1)" x="0" y="0" font-family="'Liberation Sans', sans-serif" font-weight="bold" font-size="21.41" fill="#000" stroke="#000" stroke-width="0.6" stroke-linejoin="round" style="white-space:pre">B</text><text transform="translate(10.482,0) scale(0.839,1)" x="0" y="0" font-family="'Liberation Sans', sans-serif" font-weight="bold" font-size="21.41" fill="#000" stroke="#000" stroke-width="0.6" stroke-linejoin="round" style="white-space:pre">ox for </text><text transform="translate(65.366,0) scale(0.678,1)" x="0" y="0" font-family="'Liberation Sans', sans-serif" font-weight="bold" font-size="21.41" fill="#000" stroke="#000" stroke-width="0.6" stroke-linejoin="round" style="white-space:pre">H</text><text transform="translate(75.847,0) scale(0.839,1)" x="0" y="0" font-family="'Liberation Sans', sans-serif" font-weight="bold" font-size="21.41" fill="#000" stroke="#000" stroke-width="0.6" stroke-linejoin="round" style="white-space:pre">andwriting</text></g>
<g transform="translate(1053.396,499.658)"><text transform="translate(0,0) scale(0.615,1)" x="0" y="0" font-family="'Liberation Sans', sans-serif" font-weight="bold" font-size="21.41" fill="#000" stroke="#000" stroke-width="0.6" stroke-linejoin="round" style="white-space:pre">E</text><text transform="translate(8.793,0) scale(0.835,1)" x="0" y="0" font-family="'Liberation Sans', sans-serif" font-weight="bold" font-size="21.41" fill="#000" stroke="#000" stroke-width="0.6" stroke-linejoin="round" style="white-space:pre">nter </text><text transform="translate(47.522,0) scale(0.615,1)" x="0" y="0" font-family="'Liberation Sans', sans-serif" font-weight="bold" font-size="21.41" fill="#000" stroke="#000" stroke-width="0.6" stroke-linejoin="round" style="white-space:pre">T</text><text transform="translate(55.576,0) scale(0.835,1)" x="0" y="0" font-family="'Liberation Sans', sans-serif" font-weight="bold" font-size="21.41" fill="#000" stroke="#000" stroke-width="0.6" stroke-linejoin="round" style="white-space:pre">ext </text><text transform="translate(86.375,0) scale(0.615,1)" x="0" y="0" font-family="'Liberation Sans', sans-serif" font-weight="bold" font-size="21.41" fill="#000" stroke="#000" stroke-width="0.6" stroke-linejoin="round" style="white-space:pre">H</text><text transform="translate(95.887,0) scale(0.835,1)" x="0" y="0" font-family="'Liberation Sans', sans-serif" font-weight="bold" font-size="21.41" fill="#000" stroke="#000" stroke-width="0.6" stroke-linejoin="round" style="white-space:pre">ere or </text><text transform="translate(150.518,0) scale(0.615,1)" x="0" y="0" font-family="'Liberation Sans', sans-serif" font-weight="bold" font-size="21.41" fill="#000" stroke="#000" stroke-width="0.6" stroke-linejoin="round" style="white-space:pre">R</text><text transform="translate(160.03,0) scale(0.835,1)" x="0" y="0" font-family="'Liberation Sans', sans-serif" font-weight="bold" font-size="21.41" fill="#000" stroke="#000" stroke-width="0.6" stroke-linejoin="round" style="white-space:pre">emove </text><text transform="translate(221.616,0) scale(0.615,1)" x="0" y="0" font-family="'Liberation Sans', sans-serif" font-weight="bold" font-size="21.41" fill="#000" stroke="#000" stroke-width="0.6" stroke-linejoin="round" style="white-space:pre">T</text><text transform="translate(229.669,0) scale(0.835,1)" x="0" y="0" font-family="'Liberation Sans', sans-serif" font-weight="bold" font-size="21.41" fill="#000" stroke="#000" stroke-width="0.6" stroke-linejoin="round" style="white-space:pre">ext</text></g>
<g transform="translate(1098.263,521.658)"><text transform="translate(0,0) scale(0.678,1)" x="0" y="0" font-family="'Liberation Sans', sans-serif" font-weight="bold" font-size="21.41" fill="#000" stroke="#000" stroke-width="0.6" stroke-linejoin="round" style="white-space:pre">B</text><text transform="translate(10.482,0) scale(0.839,1)" x="0" y="0" font-family="'Liberation Sans', sans-serif" font-weight="bold" font-size="21.41" fill="#000" stroke="#000" stroke-width="0.6" stroke-linejoin="round" style="white-space:pre">ox for </text><text transform="translate(65.366,0) scale(0.678,1)" x="0" y="0" font-family="'Liberation Sans', sans-serif" font-weight="bold" font-size="21.41" fill="#000" stroke="#000" stroke-width="0.6" stroke-linejoin="round" style="white-space:pre">H</text><text transform="translate(75.847,0) scale(0.839,1)" x="0" y="0" font-family="'Liberation Sans', sans-serif" font-weight="bold" font-size="21.41" fill="#000" stroke="#000" stroke-width="0.6" stroke-linejoin="round" style="white-space:pre">andwriting</text></g>
<g transform="translate(98.29,902.9)"><text transform="translate(0,0) scale(0.643,1)" x="0" y="0" font-family="'Liberation Sans', sans-serif" font-weight="bold" font-size="21.4" fill="#000" stroke="#000" stroke-width="0.6" stroke-linejoin="round" style="white-space:pre">E</text><text transform="translate(9.182,0) scale(0.852,1)" x="0" y="0" font-family="'Liberation Sans', sans-serif" font-weight="bold" font-size="21.4" fill="#000" stroke="#000" stroke-width="0.6" stroke-linejoin="round" style="white-space:pre">nter </text><text transform="translate(48.659,0) scale(0.643,1)" x="0" y="0" font-family="'Liberation Sans', sans-serif" font-weight="bold" font-size="21.4" fill="#000" stroke="#000" stroke-width="0.6" stroke-linejoin="round" style="white-space:pre">T</text><text transform="translate(57.067,0) scale(0.852,1)" x="0" y="0" font-family="'Liberation Sans', sans-serif" font-weight="bold" font-size="21.4" fill="#000" stroke="#000" stroke-width="0.6" stroke-linejoin="round" style="white-space:pre">ext </text><text transform="translate(88.455,0) scale(0.643,1)" x="0" y="0" font-family="'Liberation Sans', sans-serif" font-weight="bold" font-size="21.4" fill="#000" stroke="#000" stroke-width="0.6" stroke-linejoin="round" style="white-space:pre">H</text><text transform="translate(98.39,0) scale(0.852,1)" x="0" y="0" font-family="'Liberation Sans', sans-serif" font-weight="bold" font-size="21.4" fill="#000" stroke="#000" stroke-width="0.6" stroke-linejoin="round" style="white-space:pre">ere</text></g>
<g transform="translate(375.212,902.9)"><text transform="translate(0,0) scale(0.637,1)" x="0" y="0" font-family="'Liberation Sans', sans-serif" font-weight="bold" font-size="21.4" fill="#000" stroke="#000" stroke-width="0.6" stroke-linejoin="round" style="white-space:pre">E</text><text transform="translate(9.103,0) scale(0.855,1)" x="0" y="0" font-family="'Liberation Sans', sans-serif" font-weight="bold" font-size="21.4" fill="#000" stroke="#000" stroke-width="0.6" stroke-linejoin="round" style="white-space:pre">nter </text><text transform="translate(48.738,0) scale(0.637,1)" x="0" y="0" font-family="'Liberation Sans', sans-serif" font-weight="bold" font-size="21.4" fill="#000" stroke="#000" stroke-width="0.6" stroke-linejoin="round" style="white-space:pre">T</text><text transform="translate(57.074,0) scale(0.855,1)" x="0" y="0" font-family="'Liberation Sans', sans-serif" font-weight="bold" font-size="21.4" fill="#000" stroke="#000" stroke-width="0.6" stroke-linejoin="round" style="white-space:pre">ext </text><text transform="translate(88.587,0) scale(0.637,1)" x="0" y="0" font-family="'Liberation Sans', sans-serif" font-weight="bold" font-size="21.4" fill="#000" stroke="#000" stroke-width="0.6" stroke-linejoin="round" style="white-space:pre">H</text><text transform="translate(98.436,0) scale(0.855,1)" x="0" y="0" font-family="'Liberation Sans', sans-serif" font-weight="bold" font-size="21.4" fill="#000" stroke="#000" stroke-width="0.6" stroke-linejoin="round" style="white-space:pre">ere</text></g>
<g transform="translate(648.388,902.9)"><text transform="translate(0,0) scale(0.634,1)" x="0" y="0" font-family="'Liberation Sans', sans-serif" font-weight="bold" font-size="21.4" fill="#212529" stroke="#212529" stroke-width="0.6" stroke-linejoin="round" style="white-space:pre">E</text><text transform="translate(9.052,0) scale(0.855,1)" x="0" y="0" font-family="'Liberation Sans', sans-serif" font-weight="bold" font-size="21.4" fill="#212529" stroke="#212529" stroke-width="0.6" stroke-linejoin="round" style="white-space:pre">nter </text><text transform="translate(48.692,0) scale(0.634,1)" x="0" y="0" font-family="'Liberation Sans', sans-serif" font-weight="bold" font-size="21.4" fill="#212529" stroke="#212529" stroke-width="0.6" stroke-linejoin="round" style="white-space:pre">T</text><text transform="translate(56.981,0) scale(0.855,1)" x="0" y="0" font-family="'Liberation Sans', sans-serif" font-weight="bold" font-size="21.4" fill="#212529" stroke="#212529" stroke-width="0.6" stroke-linejoin="round" style="white-space:pre">ext </text><text transform="translate(88.498,0) scale(0.634,1)" x="0" y="0" font-family="'Liberation Sans', sans-serif" font-weight="bold" font-size="21.4" fill="#212529" stroke="#212529" stroke-width="0.6" stroke-linejoin="round" style="white-space:pre">H</text><text transform="translate(98.293,0) scale(0.855,1)" x="0" y="0" font-family="'Liberation Sans', sans-serif" font-weight="bold" font-size="21.4" fill="#212529" stroke="#212529" stroke-width="0.6" stroke-linejoin="round" style="white-space:pre">ere</text></g>
<g transform="translate(925.212,902.9)"><text transform="translate(0,0) scale(0.637,1)" x="0" y="0" font-family="'Liberation Sans', sans-serif" font-weight="bold" font-size="21.4" fill="#000" stroke="#000" stroke-width="0.6" stroke-linejoin="round" style="white-space:pre">E</text><text transform="translate(9.103,0) scale(0.855,1)" x="0" y="0" font-family="'Liberation Sans', sans-serif" font-weight="bold" font-size="21.4" fill="#000" stroke="#000" stroke-width="0.6" stroke-linejoin="round" style="white-space:pre">nter </text><text transform="translate(48.738,0) scale(0.637,1)" x="0" y="0" font-family="'Liberation Sans', sans-serif" font-weight="bold" font-size="21.4" fill="#000" stroke="#000" stroke-width="0.6" stroke-linejoin="round" style="white-space:pre">T</text><text transform="translate(57.074,0) scale(0.855,1)" x="0" y="0" font-family="'Liberation Sans', sans-serif" font-weight="bold" font-size="21.4" fill="#000" stroke="#000" stroke-width="0.6" stroke-linejoin="round" style="white-space:pre">ext </text><text transform="translate(88.587,0) scale(0.637,1)" x="0" y="0" font-family="'Liberation Sans', sans-serif" font-weight="bold" font-size="21.4" fill="#000" stroke="#000" stroke-width="0.6" stroke-linejoin="round" style="white-space:pre">H</text><text transform="translate(98.436,0) scale(0.855,1)" x="0" y="0" font-family="'Liberation Sans', sans-serif" font-weight="bold" font-size="21.4" fill="#000" stroke="#000" stroke-width="0.6" stroke-linejoin="round" style="white-space:pre">ere</text></g>
<g transform="translate(1198.212,902.9)"><text transform="translate(0,0) scale(0.637,1)" x="0" y="0" font-family="'Liberation Sans', sans-serif" font-weight="bold" font-size="21.4" fill="#000" stroke="#000" stroke-width="0.6" stroke-linejoin="round" style="white-space:pre">E</text><text transform="translate(9.103,0) scale(0.856,1)" x="0" y="0" font-family="'Liberation Sans', sans-serif" font-weight="bold" font-size="21.4" fill="#000" stroke="#000" stroke-width="0.6" stroke-linejoin="round" style="white-space:pre">nter </text><text transform="translate(48.786,0) scale(0.637,1)" x="0" y="0" font-family="'Liberation Sans', sans-serif" font-weight="bold" font-size="21.4" fill="#000" stroke="#000" stroke-width="0.6" stroke-linejoin="round" style="white-space:pre">T</text><text transform="translate(57.122,0) scale(0.856,1)" x="0" y="0" font-family="'Liberation Sans', sans-serif" font-weight="bold" font-size="21.4" fill="#000" stroke="#000" stroke-width="0.6" stroke-linejoin="round" style="white-space:pre">ext </text><text transform="translate(88.674,0) scale(0.637,1)" x="0" y="0" font-family="'Liberation Sans', sans-serif" font-weight="bold" font-size="21.4" fill="#000" stroke="#000" stroke-width="0.6" stroke-linejoin="round" style="white-space:pre">H</text><text transform="translate(98.524,0) scale(0.856,1)" x="0" y="0" font-family="'Liberation Sans', sans-serif" font-weight="bold" font-size="21.4" fill="#000" stroke="#000" stroke-width="0.6" stroke-linejoin="round" style="white-space:pre">ere</text></g>
<text x="27.435" y="1078.8" font-family="'Liberation Sans', sans-serif" font-weight="bold" font-size="13" fill="#000" stroke="#000" stroke-width="0.15" stroke-linejoin="round" textLength="133.011" lengthAdjust="spacingAndGlyphs">www.storyboardthat.com</text>
<text x="1262.051" y="1073.471" font-family="'Liberation Sans', sans-serif" font-weight="normal" font-size="16.968" fill="#111" stroke="#111" stroke-width="0.3" stroke-linejoin="round" textLength="95.226" lengthAdjust="spacingAndGlyphs">Storyboard</text>
<text x="1356.757" y="1073.419" font-family="'Liberation Sans', sans-serif" font-weight="normal" font-size="16.968" fill="#999" stroke="#999" stroke-width="0.3" stroke-linejoin="round" textLength="38.264" lengthAdjust="spacingAndGlyphs">That</text>
<g transform="translate(184.541,419.588) scale(1.005,0.983)" fill="none" stroke="#212529" stroke-width="2.2" stroke-linecap="round" stroke-linejoin="round"><path vector-effect="non-scaling-stroke" transform="translate(0,0)" d="M 11.3 -15.5 C 10 -18.5 3.5 -19.5 1 -15.5 C -0.8 -12.5 2.5 -10.3 6.5 -10 C 11 -9.7 12.6 -7.8 12.5 -5 C 12.3 -1.5 9 -0.2 6.5 -0.2 C 4.5 -0.2 2.5 -1 1.4 -2.6"/><path vector-effect="non-scaling-stroke" transform="translate(14.5,0)" d="M 1 -11.5 L 2 -0.5 M 1.5 -9.7 C 2.5 -12.5 3.5 -14 5 -13.8 C 7 -13.5 7.6 -10 7.6 -3.3 M 7.6 -8 C 8.5 -12.5 10 -14.6 11.5 -14.5 C 13.5 -14 14 -11 14.6 -0.4"/><path vector-effect="non-scaling-stroke" transform="translate(31.4,0)" d="M 0.8 -11.3 C 2 -13.5 6 -15 7 -11.5 L 7.8 -0.3 M 7 -5.4 C 5 -7 1 -6.8 0.2 -4 C -0.3 -1 3 -0.2 5.5 -0.3 C 6.5 -0.4 7.5 -1 8.1 -1.5"/><path vector-effect="non-scaling-stroke" transform="translate(41.5,0)" d="M 0 -22.5 L 1.2 -0.2"/><path vector-effect="non-scaling-stroke" transform="translate(44.7,0)" d="M 0 -22.5 L 1.2 -0.2"/><path vector-effect="non-scaling-stroke" transform="translate(57.5,0)" d="M 0 -0.3 L 0.5 -19.5 L 4.2 -8.4 L 8.7 -19.5 L 10.8 -0.3"/><path vector-effect="non-scaling-stroke" transform="translate(70.4,0)" d="M 4.45 -13.8 C 1.5 -13.8 0.25 -10 0.25 -7 C 0.25 -3 2 -0.2 4.45 -0.2 C 7 -0.2 8.65 -3.5 8.65 -7 C 8.65 -10.5 7 -13.8 4.45 -13.8 Z"/><path vector-effect="non-scaling-stroke" transform="translate(81.2,0)" d="M 1 -11.5 L 2 -0.5 M 1.5 -9.7 C 2.5 -12.5 3.5 -14 5 -13.8 C 7 -13.5 7.6 -10 7.6 -3.3 M 7.6 -8 C 8.5 -12.5 10 -14.6 11.5 -14.5 C 13.5 -14 14 -11 14.6 -0.4"/><path vector-effect="non-scaling-stroke" transform="translate(98.1,0)" d="M 2.2 -7.9 L 8.3 -9.5 C 8.2 -12 6.5 -13.3 4.8 -13.2 C 2 -13 0.3 -10 0.4 -6.5 C 0.5 -2.5 2.3 -0.5 4.5 -0.5 C 6 -0.5 7.5 -1.2 8.5 -2.2"/><path vector-effect="non-scaling-stroke" transform="translate(108.5,0)" d="M 0.5 -13 L 0.8 -0.2 M 0.8 -9.5 C 2 -13.5 4 -15 6.5 -15 C 9 -15 9.7 -12 9.7 -9 L 9.5 -0.2"/><path vector-effect="non-scaling-stroke" transform="translate(120.4,0)" d="M 5.6 -17.5 C 5 -13 4.5 -8 4.7 -4.5 C 5 -0.5 8 -0.3 10.4 -2 M 0.2 -11.9 L 10 -11.9"/></g>
<g transform="translate(663.753,420.153) scale(0.939,0.916)" fill="none" stroke="#212529" stroke-width="2.1" stroke-linecap="round" stroke-linejoin="round"><path vector-effect="non-scaling-stroke" transform="translate(0,0)" d="M 10 -14.8 C 9.5 -17.5 7.5 -19.2 5.5 -18.6 C 2 -17.5 0.3 -12.5 0.5 -8.5 C 0.7 -3.5 3 -0.4 5.5 -0.5 C 8 -0.6 10.5 -2.5 12.4 -3.8"/><path vector-effect="non-scaling-stroke" transform="translate(14.3,0)" d="M 0.9 -21.5 L 1.1 -0.3 M 1.3 -8.9 C 2 -12 4 -13.5 6 -13.3 C 8 -13 8.4 -11 8.4 -9 L 8.4 -0.3"/><path vector-effect="non-scaling-stroke" transform="translate(24.8,0)" d="M 0.8 -11.3 C 2 -13.5 6 -15 7 -11.5 L 7.8 -0.3 M 7 -5.4 C 5 -7 1 -6.8 0.2 -4 C -0.3 -1 3 -0.2 5.5 -0.3 C 6.5 -0.4 7.5 -1 8.1 -1.5"/><path vector-effect="non-scaling-stroke" transform="translate(34.9,0)" d="M 0.8 -12.4 L 1.2 -0.5 M 1.3 -7.3 C 2 -10.5 3.5 -12.8 6 -12.8 C 7 -12.8 7.8 -11.5 8.1 -10.3"/><path vector-effect="non-scaling-stroke" transform="translate(44.9,0)" d="M 0.8 -11.3 C 2 -13.5 6 -15 7 -11.5 L 7.8 -0.3 M 7 -5.4 C 5 -7 1 -6.8 0.2 -4 C -0.3 -1 3 -0.2 5.5 -0.3 C 6.5 -0.4 7.5 -1 8.1 -1.5"/><path vector-effect="non-scaling-stroke" transform="translate(55,0)" d="M 7.1 -7.5 C 7.3 -11 6.5 -13 5 -12.8 C 2.5 -12.5 0.6 -9 0.7 -6 C 0.8 -2 2.5 -0.5 4.5 -0.5 C 6.5 -0.5 8.5 -2 9.8 -3.4"/><path vector-effect="non-scaling-stroke" transform="translate(66.7,0)" d="M 5.6 -17.5 C 5 -13 4.5 -8 4.7 -4.5 C 5 -0.5 8 -0.3 10.4 -2 M 0.2 -11.9 L 10 -11.9"/><path vector-effect="non-scaling-stroke" transform="translate(79,0)" d="M 2.2 -7.9 L 8.3 -9.5 C 8.2 -12 6.5 -13.3 4.8 -13.2 C 2 -13 0.3 -10 0.4 -6.5 C 0.5 -2.5 2.3 -0.5 4.5 -0.5 C 6 -0.5 7.5 -1.2 8.5 -2.2"/><path vector-effect="non-scaling-stroke" transform="translate(89.4,0)" d="M 0.8 -12.4 L 1.2 -0.5 M 1.3 -7.3 C 2 -10.5 3.5 -12.8 6 -12.8 C 7 -12.8 7.8 -11.5 8.1 -10.3"/><path vector-effect="non-scaling-stroke" transform="translate(99.4,0)" d="M 8.1 -10.3 C 7.5 -12.5 5.5 -13 4.5 -12.8 C 2 -12.5 0.5 -11 0.8 -9.3 C 1.2 -7.3 4 -7.1 6.5 -6.8 C 9 -6.5 10.4 -5 10.2 -3.5 C 9.9 -1.2 7.5 -0.4 5.7 -0.5 C 3.5 -0.6 2 -1.5 1.2 -3"/></g>
<g transform="translate(1144.961,419.533) scale(0.952,0.915)" fill="none" stroke="#212529" stroke-width="2.1" stroke-linecap="round" stroke-linejoin="round"><path vector-effect="non-scaling-stroke" transform="translate(0,0)" d="M 11.3 -15.5 C 10 -18.5 3.5 -19.5 1 -15.5 C -0.8 -12.5 2.5 -10.3 6.5 -10 C 11 -9.7 12.6 -7.8 12.5 -5 C 12.3 -1.5 9 -0.2 6.5 -0.2 C 4.5 -0.2 2.5 -1 1.4 -2.6"/><path vector-effect="non-scaling-stroke" transform="translate(14.5,0)" d="M 2.2 -7.9 L 8.3 -9.5 C 8.2 -12 6.5 -13.3 4.8 -13.2 C 2 -13 0.3 -10 0.4 -6.5 C 0.5 -2.5 2.3 -0.5 4.5 -0.5 C 6 -0.5 7.5 -1.2 8.5 -2.2"/><path vector-effect="non-scaling-stroke" transform="translate(24.9,0)" d="M 5.6 -17.5 C 5 -13 4.5 -8 4.7 -4.5 C 5 -0.5 8 -0.3 10.4 -2 M 0.2 -11.9 L 10 -11.9"/><path vector-effect="non-scaling-stroke" transform="translate(37.2,0)" d="M 5.6 -17.5 C 5 -13 4.5 -8 4.7 -4.5 C 5 -0.5 8 -0.3 10.4 -2 M 0.2 -11.9 L 10 -11.9"/><path vector-effect="non-scaling-stroke" transform="translate(49.5,0)" d="M 0.2 -12 L 0.5 -0.2 M 0.3 -17.9 L 0.5 -16.9"/><path vector-effect="non-scaling-stroke" transform="translate(52.9,0)" d="M 0.5 -13 L 0.8 -0.2 M 0.8 -9.5 C 2 -13.5 4 -15 6.5 -15 C 9 -15 9.7 -12 9.7 -9 L 9.5 -0.2"/><path vector-effect="non-scaling-stroke" transform="translate(61.8,0)" d="M 11.7 -10.5 C 11 -12.8 8.5 -13.5 7 -12.8 C 4.5 -11.5 3.6 -7.5 4 -4.5 C 4.4 -1.5 6.5 -1.3 8.2 -3 C 10 -5 11.2 -8 11.7 -11.5 C 12.3 -6 12.8 -1 12.3 3 C 11.8 7.5 9 9.5 6.5 9.5 C 3 9.5 0.5 8 0 5.4"/></g>
<g transform="translate(140.516,756.861) scale(0.753,0.751)" fill="none" stroke="#1b1e22" stroke-width="1.7" stroke-linecap="round" stroke-linejoin="round"><path vector-effect="non-scaling-stroke" transform="translate(0,0)" d="M 11.3 -15.5 C 10 -18.5 3.5 -19.5 1 -15.5 C -0.8 -12.5 2.5 -10.3 6.5 -10 C 11 -9.7 12.6 -7.8 12.5 -5 C 12.3 -1.5 9 -0.2 6.5 -0.2 C 4.5 -0.2 2.5 -1 1.4 -2.6"/><path vector-effect="non-scaling-stroke" transform="translate(14.5,0)" d="M 0.2 -12 L 0.5 -0.2 M 0.3 -17.9 L 0.5 -16.9"/><path vector-effect="non-scaling-stroke" transform="translate(14.9,0)" d="M 11.7 -10.5 C 11 -12.8 8.5 -13.5 7 -12.8 C 4.5 -11.5 3.6 -7.5 4 -4.5 C 4.4 -1.5 6.5 -1.3 8.2 -3 C 10 -5 11.2 -8 11.7 -11.5 C 12.3 -6 12.8 -1 12.3 3 C 11.8 7.5 9 9.5 6.5 9.5 C 3 9.5 0.5 8 0 5.4"/><path vector-effect="non-scaling-stroke" transform="translate(29.6,0)" d="M 0.9 -21.5 L 1.1 -0.3 M 1.3 -8.9 C 2 -12 4 -13.5 6 -13.3 C 8 -13 8.4 -11 8.4 -9 L 8.4 -0.3"/><path vector-effect="non-scaling-stroke" transform="translate(40.1,0)" d="M 5.6 -17.5 C 5 -13 4.5 -8 4.7 -4.5 C 5 -0.5 8 -0.3 10.4 -2 M 0.2 -11.9 L 10 -11.9"/><path vector-effect="non-scaling-stroke" transform="translate(52.4,0)" d="M 8.1 -10.3 C 7.5 -12.5 5.5 -13 4.5 -12.8 C 2 -12.5 0.5 -11 0.8 -9.3 C 1.2 -7.3 4 -7.1 6.5 -6.8 C 9 -6.5 10.4 -5 10.2 -3.5 C 9.9 -1.2 7.5 -0.4 5.7 -0.5 C 3.5 -0.6 2 -1.5 1.2 -3"/></g>
<g transform="translate(409.431,757.086) scale(0.826,0.788)" fill="none" stroke="#1b1e22" stroke-width="1.7" stroke-linecap="round" stroke-linejoin="round"><path vector-effect="non-scaling-stroke" transform="translate(0,0)" d="M 11.3 -15.5 C 10 -18.5 3.5 -19.5 1 -15.5 C -0.8 -12.5 2.5 -10.3 6.5 -10 C 11 -9.7 12.6 -7.8 12.5 -5 C 12.3 -1.5 9 -0.2 6.5 -0.2 C 4.5 -0.2 2.5 -1 1.4 -2.6"/><path vector-effect="non-scaling-stroke" transform="translate(14.5,0)" d="M 4.45 -13.8 C 1.5 -13.8 0.25 -10 0.25 -7 C 0.25 -3 2 -0.2 4.45 -0.2 C 7 -0.2 8.65 -3.5 8.65 -7 C 8.65 -10.5 7 -13.8 4.45 -13.8 Z"/><path vector-effect="non-scaling-stroke" transform="translate(25.3,0)" d="M 0.5 -12.5 C 0.3 -6 0.8 -0.5 4.5 -0.5 C 7.5 -0.5 8.5 -4 9 -11 M 9 -12.5 L 9.3 -0.3"/><path vector-effect="non-scaling-stroke" transform="translate(36.5,0)" d="M 0.5 -13 L 0.8 -0.2 M 0.8 -9.5 C 2 -13.5 4 -15 6.5 -15 C 9 -15 9.7 -12 9.7 -9 L 9.5 -0.2"/><path vector-effect="non-scaling-stroke" transform="translate(48.4,0)" d="M 7.8 -22.5 L 8.4 -0.2 M 7.8 -9 C 6 -12 1 -12 0.3 -6.5 C -0.2 -1.5 3 -0.3 5 -0.5 C 6.5 -0.7 7.5 -1.5 8 -2.5"/><path vector-effect="non-scaling-stroke" transform="translate(58.7,0)" d="M 8.1 -10.3 C 7.5 -12.5 5.5 -13 4.5 -12.8 C 2 -12.5 0.5 -11 0.8 -9.3 C 1.2 -7.3 4 -7.1 6.5 -6.8 C 9 -6.5 10.4 -5 10.2 -3.5 C 9.9 -1.2 7.5 -0.4 5.7 -0.5 C 3.5 -0.6 2 -1.5 1.2 -3"/></g>
<g transform="translate(688.492,756.861) scale(0.783,0.751)" fill="none" stroke="#1b1e22" stroke-width="1.7" stroke-linecap="round" stroke-linejoin="round"><path vector-effect="non-scaling-stroke" transform="translate(0,0)" d="M 11.3 -15.5 C 10 -18.5 3.5 -19.5 1 -15.5 C -0.8 -12.5 2.5 -10.3 6.5 -10 C 11 -9.7 12.6 -7.8 12.5 -5 C 12.3 -1.5 9 -0.2 6.5 -0.2 C 4.5 -0.2 2.5 -1 1.4 -2.6"/><path vector-effect="non-scaling-stroke" transform="translate(14.5,0)" d="M 1 -11.5 L 2 -0.5 M 1.5 -9.7 C 2.5 -12.5 3.5 -14 5 -13.8 C 7 -13.5 7.6 -10 7.6 -3.3 M 7.6 -8 C 8.5 -12.5 10 -14.6 11.5 -14.5 C 13.5 -14 14 -11 14.6 -0.4"/><path vector-effect="non-scaling-stroke" transform="translate(31.4,0)" d="M 2.2 -7.9 L 8.3 -9.5 C 8.2 -12 6.5 -13.3 4.8 -13.2 C 2 -13 0.3 -10 0.4 -6.5 C 0.5 -2.5 2.3 -0.5 4.5 -0.5 C 6 -0.5 7.5 -1.2 8.5 -2.2"/><path vector-effect="non-scaling-stroke" transform="translate(41.8,0)" d="M 0 -22.5 L 1.2 -0.2"/><path vector-effect="non-scaling-stroke" transform="translate(45,0)" d="M 0 -22.5 L 1.2 -0.2"/><path vector-effect="non-scaling-stroke" transform="translate(48.2,0)" d="M 8.1 -10.3 C 7.5 -12.5 5.5 -13 4.5 -12.8 C 2 -12.5 0.5 -11 0.8 -9.3 C 1.2 -7.3 4 -7.1 6.5 -6.8 C 9 -6.5 10.4 -5 10.2 -3.5 C 9.9 -1.2 7.5 -0.4 5.7 -0.5 C 3.5 -0.6 2 -1.5 1.2 -3"/></g>
<g transform="translate(959.869,756.939) scale(0.722,0.746)" fill="none" stroke="#1b1e22" stroke-width="1.7" stroke-linecap="round" stroke-linejoin="round"><path vector-effect="non-scaling-stroke" transform="translate(0,0)" d="M 0 -17 L 12.7 -18.9 M 6.4 -16.8 L 7.3 -0.2"/><path vector-effect="non-scaling-stroke" transform="translate(14.6,0)" d="M 0.8 -11.3 C 2 -13.5 6 -15 7 -11.5 L 7.8 -0.3 M 7 -5.4 C 5 -7 1 -6.8 0.2 -4 C -0.3 -1 3 -0.2 5.5 -0.3 C 6.5 -0.4 7.5 -1 8.1 -1.5"/><path vector-effect="non-scaling-stroke" transform="translate(24.7,0)" d="M 8.1 -10.3 C 7.5 -12.5 5.5 -13 4.5 -12.8 C 2 -12.5 0.5 -11 0.8 -9.3 C 1.2 -7.3 4 -7.1 6.5 -6.8 C 9 -6.5 10.4 -5 10.2 -3.5 C 9.9 -1.2 7.5 -0.4 5.7 -0.5 C 3.5 -0.6 2 -1.5 1.2 -3"/><path vector-effect="non-scaling-stroke" transform="translate(37,0)" d="M 5.6 -17.5 C 5 -13 4.5 -8 4.7 -4.5 C 5 -0.5 8 -0.3 10.4 -2 M 0.2 -11.9 L 10 -11.9"/><path vector-effect="non-scaling-stroke" transform="translate(49.3,0)" d="M 2.2 -7.9 L 8.3 -9.5 C 8.2 -12 6.5 -13.3 4.8 -13.2 C 2 -13 0.3 -10 0.4 -6.5 C 0.5 -2.5 2.3 -0.5 4.5 -0.5 C 6 -0.5 7.5 -1.2 8.5 -2.2"/><path vector-effect="non-scaling-stroke" transform="translate(59.7,0)" d="M 8.1 -10.3 C 7.5 -12.5 5.5 -13 4.5 -12.8 C 2 -12.5 0.5 -11 0.8 -9.3 C 1.2 -7.3 4 -7.1 6.5 -6.8 C 9 -6.5 10.4 -5 10.2 -3.5 C 9.9 -1.2 7.5 -0.4 5.7 -0.5 C 3.5 -0.6 2 -1.5 1.2 -3"/></g>
<g transform="translate(1230.482,757.314) scale(0.753,0.735)" fill="none" stroke="#1b1e22" stroke-width="1.7" stroke-linecap="round" stroke-linejoin="round"><path vector-effect="non-scaling-stroke" transform="translate(0,0)" d="M 1.8 -18.6 L 2.8 -0.3 M 0 -17.9 L 13.7 -20.4 M 1.8 -9.7 L 11.3 -10.8"/><path vector-effect="non-scaling-stroke" transform="translate(15.6,0)" d="M 2.2 -7.9 L 8.3 -9.5 C 8.2 -12 6.5 -13.3 4.8 -13.2 C 2 -13 0.3 -10 0.4 -6.5 C 0.5 -2.5 2.3 -0.5 4.5 -0.5 C 6 -0.5 7.5 -1.2 8.5 -2.2"/><path vector-effect="non-scaling-stroke" transform="translate(26,0)" d="M 2.2 -7.9 L 8.3 -9.5 C 8.2 -12 6.5 -13.3 4.8 -13.2 C 2 -13 0.3 -10 0.4 -6.5 C 0.5 -2.5 2.3 -0.5 4.5 -0.5 C 6 -0.5 7.5 -1.2 8.5 -2.2"/><path vector-effect="non-scaling-stroke" transform="translate(36.4,0)" d="M 0 -22.5 L 1.2 -0.2"/><path vector-effect="non-scaling-stroke" transform="translate(39.6,0)" d="M 0.2 -12 L 0.5 -0.2 M 0.3 -17.9 L 0.5 -16.9"/><path vector-effect="non-scaling-stroke" transform="translate(43,0)" d="M 0.5 -13 L 0.8 -0.2 M 0.8 -9.5 C 2 -13.5 4 -15 6.5 -15 C 9 -15 9.7 -12 9.7 -9 L 9.5 -0.2"/><path vector-effect="non-scaling-stroke" transform="translate(51.9,0)" d="M 11.7 -10.5 C 11 -12.8 8.5 -13.5 7 -12.8 C 4.5 -11.5 3.6 -7.5 4 -4.5 C 4.4 -1.5 6.5 -1.3 8.2 -3 C 10 -5 11.2 -8 11.7 -11.5 C 12.3 -6 12.8 -1 12.3 3 C 11.8 7.5 9 9.5 6.5 9.5 C 3 9.5 0.5 8 0 5.4"/><path vector-effect="non-scaling-stroke" transform="translate(66.6,0)" d="M 8.1 -10.3 C 7.5 -12.5 5.5 -13 4.5 -12.8 C 2 -12.5 0.5 -11 0.8 -9.3 C 1.2 -7.3 4 -7.1 6.5 -6.8 C 9 -6.5 10.4 -5 10.2 -3.5 C 9.9 -1.2 7.5 -0.4 5.7 -0.5 C 3.5 -0.6 2 -1.5 1.2 -3"/></g>
</svg>
</body></html>
